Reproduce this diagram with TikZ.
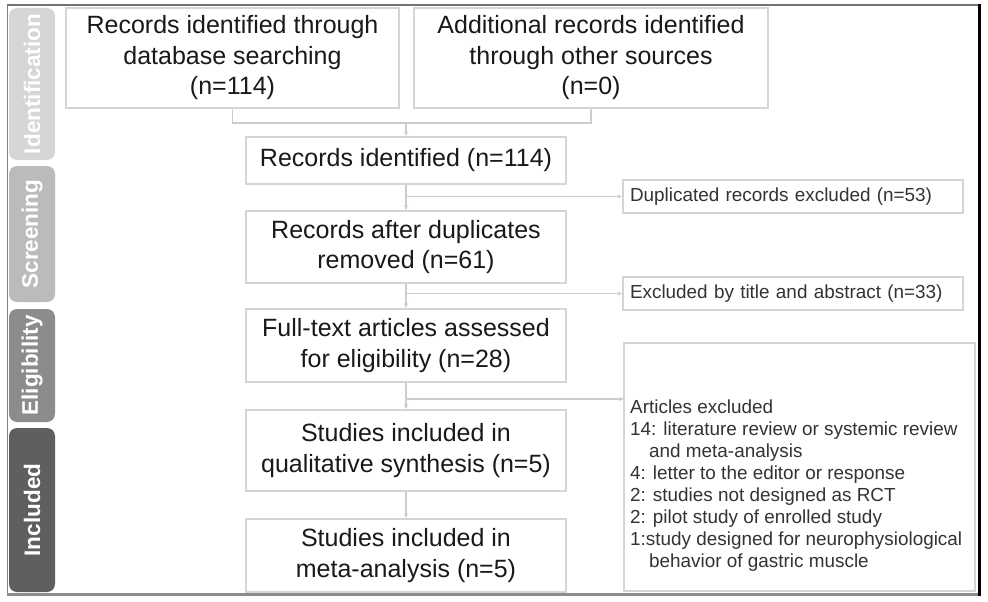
\documentclass[tikz,border=0pt]{standalone}
\usepackage{fontspec}
\setmainfont{Liberation Sans}
\usetikzlibrary{arrows.meta}
\definecolor{boxline}{HTML}{D5D5D5}
\definecolor{flowline}{HTML}{CDCDCD}
\definecolor{stageid}{HTML}{D6D6D6}
\definecolor{stagesc}{HTML}{BBBBBB}
\definecolor{stageel}{HTML}{8C8C8C}
\definecolor{stagein}{HTML}{5F5F5F}
\tikzset{
  flowbox/.style={draw=boxline,line width=1.5pt,fill=white,inner sep=0pt,align=center,
    text=black!90,font=\fontsize{25}{30.5}\selectfont},
  notebox/.style={draw=boxline,line width=1.5pt,fill=white,inner xsep=7pt,inner ysep=0pt,
    align=left,text=black!80,font=\fontsize{18.9}{22}\selectfont},
  stage/.style={rotate=90,rounded corners=8pt,text=white,inner sep=0pt,minimum height=46pt,
    font=\bfseries\fontsize{22.5}{26}\selectfont},
  flow/.style={draw=flowline,line width=1.5pt},
  flowarr/.style={flow,-{Stealth[length=5pt,width=4pt]}},
}
\begin{document}
\begin{tikzpicture}[x=1pt,y=-1pt]
  \useasboundingbox (0,0) rectangle (988,602);
  \draw[line width=2pt,black!55] (7,5.5) -- (979,5.5);
  \draw[line width=1.5pt,black!50] (7.5,5) -- (7.5,595);
  \draw[line width=3pt,black!45] (7,594.5) -- (979,594.5);
  \draw[line width=3pt,black] (979,4.5) -- (979,596);
  \node[stage,fill=stageid,minimum width=152pt] (identlab) at (32,84) {Identification};
  \node[stage,fill=stagesc,minimum width=136pt] (screenlab) at (32,234) {Screening};
  \node[stage,fill=stageel,minimum width=113pt] (eliglab) at (32,365.5) {Eligibility};
  \node[stage,fill=stagein,minimum width=164pt] (inclab) at (32,510) {Included};
  \node[flowbox,minimum width=333pt,minimum height=100pt] (dbsrc) at (232.5,58)
    {Records identified through\\database searching\\(n=114)};
  \node[flowbox,minimum width=354pt,minimum height=100pt] (othersrc) at (591,58)
    {Additional records identified\\through other sources\\(n=0)};
  \node[flowbox,minimum width=320pt,minimum height=47pt] (ident) at (406,160.5)
    {Records identified (n=114)};
  \node[flowbox,minimum width=320pt,minimum height=72pt] (dedup) at (406,247)
    {Records after duplicates\\removed (n=61)};
  \node[flowbox,minimum width=320pt,minimum height=73pt] (fulltext) at (406,345.5)
    {Full-text articles assessed\\for eligibility (n=28)};
  \node[flowbox,minimum width=320pt,minimum height=81pt] (qualit) at (406,450.5)
    {Studies included in\\qualitative synthesis (n=5)};
  \node[flowbox,minimum width=320pt,minimum height=73pt] (meta) at (406,555.5)
    {Studies included in\\meta-analysis (n=5)};
  \node[notebox,text width=326pt,minimum height=33pt] (dupout) at (793,196.5)
    {Duplicated records excluded (n=53)};
  \node[notebox,text width=326pt,minimum height=33pt] (titleout) at (793,293.5)
    {Excluded by title and abstract (n=33)};
  \node[notebox,minimum width=351pt,minimum height=248pt] (artout) at (799.5,467) {};
  \node[anchor=north west,align=left,inner sep=0pt,text=black!80,
    font=\fontsize{18.9}{22}\selectfont] (arttext) at (630,400)
    {Articles excluded\\
     14: literature review or systemic review\\
     \hspace*{19pt}and meta-analysis\\
     4: letter to the editor or response\\
     2: studies not designed as RCT\\
     2: pilot study of enrolled study\\
     1:study designed for neurophysiological\\
     \hspace*{19pt}behavior of gastric muscle};
  \coordinate (join) at (406,123);
  \coordinate (artin) at (624,399);
  \draw[flow] (dbsrc.south) |- (join) -| (othersrc.south);
  \draw[flowarr] (join) -- (ident.north);
  \draw[flowarr] (ident.south) -- (dedup.north);
  \draw[flowarr] (ident.south |- dupout.west) -- (dupout.west);
  \draw[flowarr] (dedup.south) -- (fulltext.north);
  \draw[flowarr] (dedup.south |- titleout.west) -- (titleout.west);
  \draw[flowarr] (fulltext.south) -- (qualit.north);
  \draw[flowarr] (fulltext.south |- artin) -- (artin);
  \draw[flowarr] (qualit.south) -- (meta.north);
\end{tikzpicture}
\end{document}
